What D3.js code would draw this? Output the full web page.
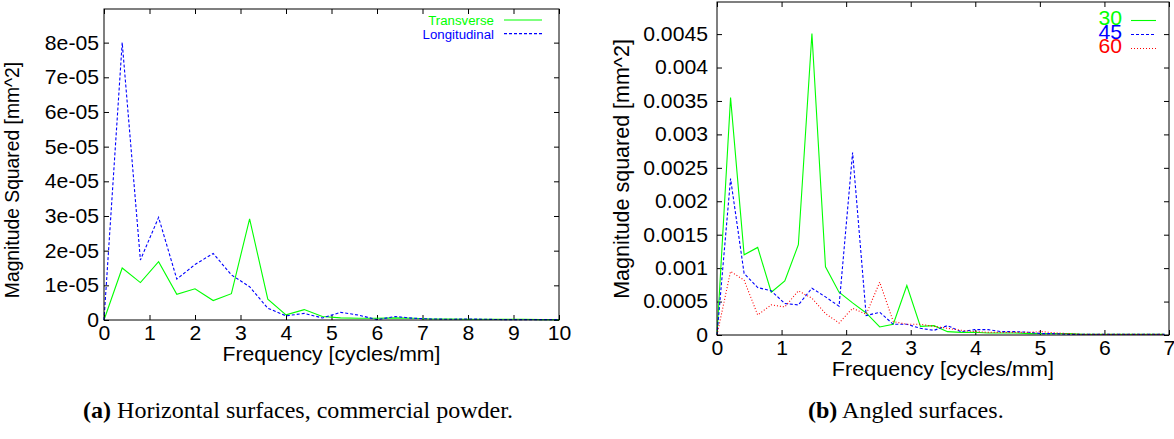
<!DOCTYPE html>
<html>
<head>
<meta charset="utf-8">
<script src="https://cdn.jsdelivr.net/npm/d3@7"></script>
<style>
  html, body { margin: 0; padding: 0; background: #fff; }
  svg { display: block; font-family: "Liberation Sans", Arial, sans-serif; }
</style>
</head>
<body>
<svg id="chart" width="1174" height="439"></svg>
<script>
// ---- panel (a): horizontal surfaces ----
const freqA = [0, 0.4, 0.8, 1.2, 1.6, 2.0, 2.4, 2.8, 3.2, 3.6, 4.0, 4.4, 4.8, 5.2, 5.6, 6.0, 6.4, 6.8, 7.2, 7.6, 8.0, 8.4, 8.8, 9.2, 9.6, 10.0];
const transverse = [0, 1.5e-5, 1.08e-5, 1.68e-5, 0.74e-5, 0.9e-5, 0.56e-5, 0.76e-5, 2.92e-5, 0.6e-5, 0.15e-5, 0.3e-5, 0.1e-5, 0.06e-5, 0.05e-5, 0.05e-5, 0.06e-5, 0.05e-5, 0.03e-5, 0.03e-5, 0.02e-5, 0.02e-5, 0.02e-5, 0.02e-5, 0.01e-5, 0.01e-5];
const longitudinal = [0, 8.0e-5, 1.73e-5, 2.96e-5, 1.18e-5, 1.6e-5, 1.92e-5, 1.3e-5, 0.96e-5, 0.34e-5, 0.12e-5, 0.19e-5, 0.06e-5, 0.22e-5, 0.14e-5, 0.01e-5, 0.1e-5, 0.05e-5, 0.03e-5, 0.02e-5, 0.03e-5, 0.02e-5, 0.01e-5, 0.01e-5, 0.01e-5, 0.01e-5];
const xTicksA = [0, 1, 2, 3, 4, 5, 6, 7, 8, 9, 10];
const yTicksA = [0, 1e-5, 2e-5, 3e-5, 4e-5, 5e-5, 6e-5, 7e-5, 8e-5];
const yTickLabelsA = ["0", "1e-05", "2e-05", "3e-05", "4e-05", "5e-05", "6e-05", "7e-05", "8e-05"];

// ---- panel (b): angled surfaces ----
const freqB = [0, 0.21, 0.42, 0.63, 0.84, 1.05, 1.26, 1.47, 1.68, 1.89, 2.1, 2.31, 2.52, 2.73, 2.94, 3.15, 3.36, 3.57, 3.78, 3.99, 4.2, 4.41, 4.62, 4.83, 5.04, 5.25, 5.46, 5.67, 5.88, 6.09, 6.3, 6.51, 6.72, 6.93];
const angle30 = [0, 0.00355, 0.0012, 0.00131, 0.00064, 0.00081, 0.00135, 0.00451, 0.00102, 0.00064, 0.00048, 0.00033, 0.00012, 0.00016, 0.00074, 0.00013, 0.00014, 0.00005, 0.00004, 0.00004, 0.00003, 0.00003, 0.00003, 0.00002, 0.00002, 0.00002, 0.00002, 0.00001, 0.00001, 0.00001, 0.00001, 0.00001, 0.00001, 0.00001];
const angle45 = [0, 0.00234, 0.00092, 0.00071, 0.00066, 0.00047, 0.00045, 0.0007, 0.00057, 0.00043, 0.00273, 0.00029, 0.00034, 0.00016, 0.00016, 0.0001, 0.00007, 0.00014, 0.00005, 0.00008, 0.00008, 0.00005, 0.00005, 0.00004, 0.00002, 0.00002, 0.00001, 0.00001, 0.00001, 0.00001, 0.00001, 0.00001, 0.00001, 0.00001];
const angle60 = [0, 0.00095, 0.00082, 0.0003, 0.00045, 0.00042, 0.00066, 0.00055, 0.00032, 0.00018, 0.0004, 0.00031, 0.00079, 0.0002, 0.00016, 0.00016, 0.00013, 0.0001, 0.00007, 0.00005, 0.00004, 0.00004, 0.00004, 0.00004, 0.00005, 0.00003, 0.00002, 0.00001, 0.00001, 0.00001, 0.00001, 0.00001, 0.00001, 0.00001];
const xTicksB = [0, 1, 2, 3, 4, 5, 6, 7];
const yTicksB = [0, 0.0005, 0.001, 0.0015, 0.002, 0.0025, 0.003, 0.0035, 0.004, 0.0045];
const yTickLabelsB = ["0", "0.0005", "0.001", "0.0015", "0.002", "0.0025", "0.003", "0.0035", "0.004", "0.0045"];

const STRETCH = 1.06; // the source figure is a little wider than tall

const svg = d3.select("#chart");

// widen a text horizontally around its own x
function widen(sel) {
  sel.each(function() {
    const t = d3.select(this);
    const x = +t.attr("x") || 0;
    t.attr("transform", `translate(${x},0) scale(${STRETCH},1) translate(${-x},0)`);
  });
}

function drawPanel(p) {
  const x = d3.scaleLinear().domain(p.xDomain).range([p.left, p.right]);
  const y = d3.scaleLinear().domain(p.yDomain).range([p.bottom, p.top]);
  const g = svg.append("g");

  // bottom axis, ticks pointing inward
  const bx = g.append("g")
    .attr("transform", `translate(0,${p.bottom})`)
    .call(d3.axisBottom(x).tickValues(p.xTicks).tickSize(-5).tickFormat(d3.format("d")));
  bx.select(".domain").remove();
  bx.selectAll("text").attr("y", 20).attr("dy", 0).attr("font-size", 20).attr("fill", "#000").call(widen);

  // top mirror ticks
  const tx = g.append("g")
    .attr("transform", `translate(0,${p.top})`)
    .call(d3.axisTop(x).tickValues(p.xTicks).tickSize(-5).tickFormat(""));
  tx.select(".domain").remove();

  // left axis
  const ly = g.append("g")
    .attr("transform", `translate(${p.left},0)`)
    .call(d3.axisLeft(y).tickValues(p.yTicks).tickSize(-5).tickFormat((d, i) => p.yLabels[i]));
  ly.select(".domain").remove();
  ly.selectAll("text").attr("x", -p.yGap).attr("font-size", 20).attr("fill", "#000").call(widen);

  // right mirror ticks
  const ry = g.append("g")
    .attr("transform", `translate(${p.right},0)`)
    .call(d3.axisRight(y).tickValues(p.yTicks).tickSize(-5).tickFormat(""));
  ry.select(".domain").remove();

  g.selectAll(".tick line").attr("stroke", "#000");

  // series
  const line = d3.line()
    .x((d, i) => x(p.freq[i]))
    .y(d => y(d));
  p.series.forEach(s => {
    g.append("path")
      .datum(s.values)
      .attr("fill", "none")
      .attr("stroke", s.color)
      .attr("stroke-width", 1.1)
      .attr("stroke-dasharray", s.dash)
      .attr("d", line);
  });

  // frame
  g.append("rect")
    .attr("x", p.left).attr("y", p.top)
    .attr("width", p.right - p.left).attr("height", p.bottom - p.top)
    .attr("fill", "none").attr("stroke", "#000").attr("stroke-width", 1);

  // axis titles
  g.append("text")
    .attr("x", (p.left + p.right) / 2)
    .attr("y", p.bottom + 41)
    .attr("text-anchor", "middle")
    .attr("font-size", p.xTitleSize)
    .text(p.xTitle)
    .call(widen);

  g.append("text")
    .attr("transform", `translate(${p.yTitleX},${p.yTitleY}) scale(${STRETCH},1) rotate(-90)`)
    .attr("text-anchor", "middle")
    .attr("font-size", p.yTitleSize)
    .text(p.yTitle);

  // legend
  p.series.forEach((s, i) => {
    const ly0 = p.legend.y + i * p.legend.step;
    g.append("text")
      .attr("x", p.legend.textX)
      .attr("y", ly0 + p.legend.baseline)
      .attr("text-anchor", "end")
      .attr("font-size", p.legend.size)
      .attr("fill", s.color)
      .text(s.name)
      .call(widen);
    g.append("line")
      .attr("x1", p.legend.x1).attr("x2", p.legend.x2)
      .attr("y1", ly0).attr("y2", ly0)
      .attr("stroke", s.color)
      .attr("stroke-width", 1.1)
      .attr("stroke-dasharray", s.dash);
  });
}

drawPanel({
  left: 104, right: 559, top: 9, bottom: 320,
  xDomain: [0, 10], yDomain: [0, 8.97e-5],
  xTicks: xTicksA, yTicks: yTicksA, yLabels: yTickLabelsA, yGap: 5,
  freq: freqA,
  series: [
    { name: "Transverse", values: transverse, color: "#00ff00", dash: null },
    { name: "Longitudinal", values: longitudinal, color: "#0000ff", dash: "3,2" }
  ],
  xTitle: "Frequency [cycles/mm]", yTitle: "Magnitude Squared [mm^2]",
  xTitleSize: 20, yTitleSize: 19.3, yTitleX: 19, yTitleY: 180,
  legend: { y: 20, step: 13.6, baseline: 5, textX: 494, x1: 504, x2: 542, size: 12.5 }
});

drawPanel({
  left: 717, right: 1169, top: 2, bottom: 335,
  xDomain: [0, 7], yDomain: [0, 0.00498],
  xTicks: xTicksB, yTicks: yTicksB, yLabels: yTickLabelsB, yGap: 9,
  freq: freqB,
  series: [
    { name: "30", values: angle30, color: "#00ff00", dash: null },
    { name: "45", values: angle45, color: "#0000ff", dash: "3,2" },
    { name: "60", values: angle60, color: "#ff0000", dash: "1,2" }
  ],
  xTitle: "Frequency [cycles/mm]", yTitle: "Magnitude squared [mm^2]",
  xTitleSize: 20.4, yTitleSize: 21.5, yTitleX: 629, yTitleY: 169,
  legend: { y: 20.5, step: 14, baseline: 4.5, textX: 1122, x1: 1131, x2: 1156, size: 20 }
});

// captions
const captions = [
  { x: 83, tag: "(a)", text: " Horizontal surfaces, commercial powder." },
  { x: 808, tag: "(b)", text: " Angled surfaces." }
];
captions.forEach(c => {
  const t = svg.append("text")
    .attr("x", c.x).attr("y", 418)
    .attr("font-family", "'Liberation Serif', 'Times New Roman', serif")
    .attr("font-size", 22.7)
    .attr("fill", "#000");
  t.append("tspan").attr("font-weight", "bold").text(c.tag);
  t.append("tspan").text(c.text);
  t.call(widen);
});
</script>
</body>
</html>
